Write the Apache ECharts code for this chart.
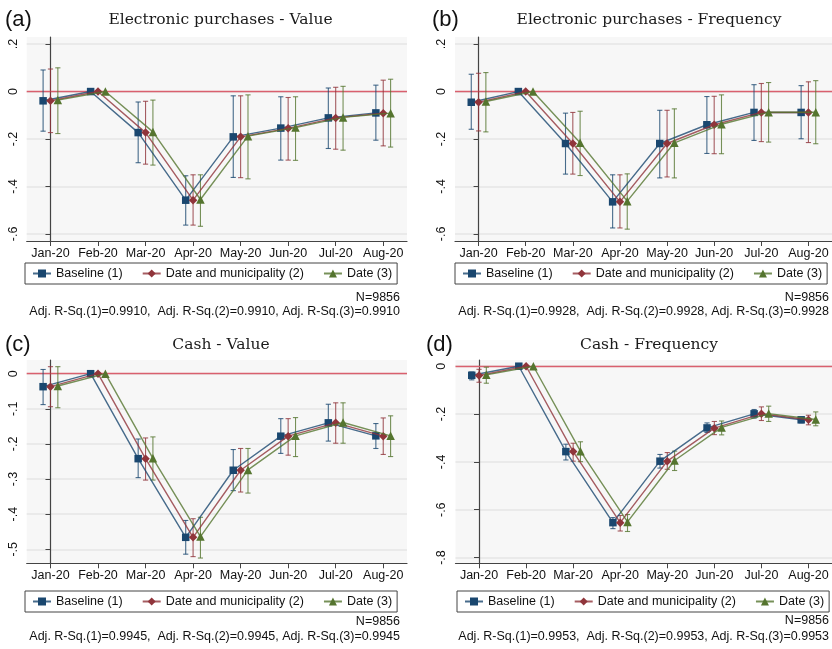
<!DOCTYPE html>
<html>
<head>
<meta charset="utf-8">
<script src="https://cdn.jsdelivr.net/npm/echarts@6/dist/echarts.min.js"></script>
<style>
  html, body { margin: 0; padding: 0; background: #fff; }
  #chart { width: 832px; height: 649px; }
</style>
</head>
<body>
<div id="chart"></div>
<script>
const months = ['Jan-20', 'Feb-20', 'Mar-20', 'Apr-20', 'May-20', 'Jun-20', 'Jul-20', 'Aug-20'];
const seriesNames = ['Baseline (1)', 'Date and municipality (2)', 'Date (3)'];
const colors = ['#1a476f', '#90353b', '#55752f'];
const symbols = ['rect', 'diamond', 'triangle'];
const symbolSizes = [7.5, 8.5, 8.5];
const dodge = [-0.155, 0, 0.155];

// (a) Electronic purchases - Value
const aBase   = [-0.039, 0, -0.173, -0.458, -0.191, -0.154, -0.111, -0.090];
const aBaseHi = [0.091, null, -0.044, -0.355, -0.018, -0.022, 0.015, 0.027];
const aBaseLo = [-0.167, null, -0.300, -0.563, -0.362, -0.289, -0.240, -0.205];
const aMun    = [-0.039, 0, -0.173, -0.458, -0.191, -0.155, -0.111, -0.091];
const aMunHi  = [0.095, null, -0.041, -0.351, -0.018, -0.025, 0.018, 0.048];
const aMunLo  = [-0.173, null, -0.306, -0.563, -0.363, -0.289, -0.243, -0.229];
const aDate   = [-0.036, 0, -0.170, -0.455, -0.188, -0.152, -0.109, -0.091];
const aDateHi = [0.100, null, -0.036, -0.351, -0.014, -0.022, 0.022, 0.052];
const aDateLo = [-0.177, null, -0.310, -0.568, -0.368, -0.290, -0.247, -0.234];

// (b) Electronic purchases - Frequency
const bBase   = [-0.045, 0, -0.219, -0.465, -0.219, -0.140, -0.088, -0.088];
const bBaseHi = [0.073, null, -0.091, -0.351, -0.079, -0.021, 0.029, 0.025];
const bBaseLo = [-0.159, null, -0.348, -0.575, -0.364, -0.261, -0.206, -0.199];
const bMun    = [-0.045, 0, -0.219, -0.465, -0.219, -0.140, -0.088, -0.088];
const bMunHi  = [0.077, null, -0.088, -0.351, -0.079, -0.020, 0.034, 0.041];
const bMunLo  = [-0.166, null, -0.348, -0.575, -0.360, -0.262, -0.211, -0.215];
const bDate   = [-0.042, 0, -0.216, -0.462, -0.216, -0.138, -0.087, -0.087];
const bDateHi = [0.080, null, -0.083, -0.347, -0.073, -0.014, 0.038, 0.046];
const bDateLo = [-0.170, null, -0.354, -0.580, -0.364, -0.262, -0.213, -0.220];

// (c) Cash - Value
const cBase   = [-0.037, 0, -0.242, -0.466, -0.275, -0.178, -0.140, -0.177];
const cBaseHi = [0.012, null, -0.186, -0.418, -0.216, -0.128, -0.087, -0.142];
const cBaseLo = [-0.088, null, -0.296, -0.514, -0.333, -0.227, -0.192, -0.213];
const cMun    = [-0.037, 0, -0.242, -0.466, -0.275, -0.178, -0.140, -0.178];
const cMunHi  = [0.020, null, -0.183, -0.413, -0.213, -0.128, -0.083, -0.126];
const cMunLo  = [-0.094, null, -0.303, -0.521, -0.337, -0.232, -0.198, -0.230];
const cDate   = [-0.035, 0, -0.241, -0.464, -0.274, -0.177, -0.139, -0.177];
const cDateHi = [0.020, null, -0.180, -0.409, -0.213, -0.125, -0.083, -0.120];
const cDateLo = [-0.097, null, -0.303, -0.525, -0.340, -0.236, -0.198, -0.236];

// (d) Cash - Frequency
const dBase   = [-0.038, 0, -0.357, -0.654, -0.397, -0.258, -0.199, -0.224];
const dBaseHi = [-0.024, null, -0.326, -0.633, -0.369, -0.237, -0.181, -0.215];
const dBaseLo = [-0.057, null, -0.392, -0.679, -0.426, -0.277, -0.217, -0.237];
const dMun    = [-0.039, 0, -0.357, -0.654, -0.397, -0.259, -0.199, -0.224];
const dMunHi  = [-0.013, null, -0.322, -0.624, -0.361, -0.231, -0.170, -0.205];
const dMunLo  = [-0.067, null, -0.397, -0.689, -0.431, -0.286, -0.227, -0.245];
const dDate   = [-0.036, 0, -0.355, -0.651, -0.394, -0.256, -0.198, -0.223];
const dDateHi = [-0.004, null, -0.316, -0.620, -0.355, -0.229, -0.167, -0.191];
const dDateLo = [-0.071, null, -0.399, -0.691, -0.436, -0.287, -0.231, -0.249];

const elecTicks = [-0.6, -0.4, -0.2, 0, 0.2];
const cashValTicks = [-0.5, -0.4, -0.3, -0.2, -0.1, 0];
const cashFreqTicks = [-0.8, -0.6, -0.4, -0.2, 0];

const panelTitles = ['Electronic purchases - Value', 'Electronic purchases - Frequency', 'Cash - Value', 'Cash - Frequency'];
const panelTags = ['(a)', '(b)', '(c)', '(d)'];
const obsN = 'N=9856';
const adjR2 = ['0.9910', '0.9928', '0.9945', '0.9953'];

const panels = [
  { est: [aBase, aMun, aDate], hi: [aBaseHi, aMunHi, aDateHi], lo: [aBaseLo, aMunLo, aDateLo],
    ticks: elecTicks, yMin: -0.63, yMax: 0.23,
    grid: { left: 26.7, top: 37, width: 380.3, height: 204 },
    titleX: 220.5, titleY: 20, tagX: 5, legend: { left: 25, top: 263 }, noteRight: 400, nY: 298, rY: 312 },
  { est: [bBase, bMun, bDate], hi: [bBaseHi, bMunHi, bDateHi], lo: [bBaseLo, bMunLo, bDateLo],
    ticks: elecTicks, yMin: -0.63, yMax: 0.23,
    grid: { left: 455, top: 37, width: 380.6, height: 204 },
    titleX: 649, titleY: 20, tagX: 432, legend: { left: 455, top: 263 }, noteRight: 829, nY: 298, rY: 312 },
  { est: [cBase, cMun, cDate], hi: [cBaseHi, cMunHi, cDateHi], lo: [cBaseLo, cMunLo, cDateLo],
    ticks: cashValTicks, yMin: -0.54, yMax: 0.039,
    grid: { left: 26.7, top: 360, width: 380.3, height: 203.3 },
    titleX: 221, titleY: 345, tagX: 5, legend: { left: 25, top: 591 }, noteRight: 400, nY: 622, rY: 637 },
  { est: [dBase, dMun, dDate], hi: [dBaseHi, dMunHi, dDateHi], lo: [dBaseLo, dMunLo, dDateLo],
    ticks: cashFreqTicks, yMin: -0.824, yMax: 0.026,
    grid: { left: 455.5, top: 360, width: 380.6, height: 203.3 },
    titleX: 649, titleY: 345, tagX: 426, legend: { left: 457, top: 591 }, noteRight: 829, nY: 621, rY: 637 }
];

const sans = '"Liberation Sans", Arial, sans-serif';
const serif = '"DejaVu Serif", serif';
const axisColor = '#444';

function stataNum(v) {
  if (Math.abs(v) < 1e-9) return '0';
  return (v < 0 ? '-' : '') + Math.abs(v).toFixed(1).replace(/^0/, '');
}

function errorBarRenderer(color) {
  return function (params, api) {
    const x = api.value(0);
    const top = api.coord([x, api.value(2)]);
    const bot = api.coord([x, api.value(1)]);
    const w = 2.6;
    const style = { stroke: color, lineWidth: 1.1, opacity: 0.8 };
    return {
      type: 'group',
      children: [
        { type: 'line', shape: { x1: top[0], y1: top[1], x2: bot[0], y2: bot[1] }, style },
        { type: 'line', shape: { x1: top[0] - w, y1: top[1], x2: top[0] + w, y2: top[1] }, style },
        { type: 'line', shape: { x1: bot[0] - w, y1: bot[1], x2: bot[0] + w, y2: bot[1] }, style }
      ]
    };
  };
}

const grids = [], xAxes = [], yAxes = [], series = [], legends = [], texts = [];

panels.forEach((p, k) => {
  grids.push(Object.assign({
    show: true, backgroundColor: '#f7f7f7', borderWidth: 0
  }, p.grid));

  xAxes.push({
    type: 'value', gridIndex: k, min: -0.5, max: 7.5,
    axisLine: { show: true, onZero: false, lineStyle: { color: axisColor, width: 1.2 } },
    axisTick: { show: true, length: 5, customValues: months.map((m, i) => i), lineStyle: { color: axisColor } },
    axisLabel: { customValues: months.map((m, i) => i), formatter: v => months[Math.round(v)],
      color: '#111', fontFamily: sans, fontSize: 12.5, margin: 6 },
    splitLine: { show: false }
  });

  yAxes.push({
    type: 'value', gridIndex: k, min: p.yMin, max: p.yMax,
    axisLine: { show: true, lineStyle: { color: axisColor, width: 1.2 } },
    axisTick: { show: true, length: 5, customValues: p.ticks, lineStyle: { color: axisColor } },
    axisLabel: { customValues: p.ticks, formatter: stataNum, rotate: 90,
      color: '#111', fontFamily: sans, fontSize: 12.5, margin: 7 },
    splitLine: { show: true, lineStyle: { color: '#e6e6e6', width: 1.5 } }
  });

  for (let s = 0; s < 3; s++) {
    const pts = p.est[s].map((v, i) => [i + dodge[s], v]);
    const bars = [];
    p.est[s].forEach((v, i) => {
      if (p.lo[s][i] !== null) bars.push([i + dodge[s], p.lo[s][i], p.hi[s][i]]);
    });
    series.push({
      type: 'custom', name: 'ci' + k + s, xAxisIndex: k, yAxisIndex: k,
      renderItem: errorBarRenderer(colors[s]), data: bars, z: 3, silent: true
    });
    const line = {
      type: 'line', name: seriesNames[s], xAxisIndex: k, yAxisIndex: k, data: pts,
      symbol: symbols[s], symbolSize: symbolSizes[s], showSymbol: true,
      itemStyle: { color: colors[s] },
      lineStyle: { color: colors[s], width: 1.4, opacity: 0.8 },
      z: 4 + s, animation: false
    };
    if (s === 0) {
      line.markLine = {
        silent: true, symbol: 'none', label: { show: false },
        lineStyle: { color: '#d9606e', width: 1.4, type: 'solid' },
        data: [{ yAxis: 0 }], z: 2
      };
    }
    series.push(line);
  }

  legends.push({
    data: seriesNames, left: p.legend.left, top: p.legend.top, width: 380,
    orient: 'horizontal', itemWidth: 18, itemHeight: 10, itemGap: 19,
    padding: [4, 5, 4, 7], borderColor: '#444', borderWidth: 1, backgroundColor: '#fff',
    textStyle: { fontFamily: sans, fontSize: 12.5, color: '#111' },
    selectedMode: false
  });

  texts.push(
    { type: 'text', x: p.tagX, y: p.titleY, style: { text: panelTags[k], font: '22px ' + sans, fill: '#111', textVerticalAlign: 'middle' } },
    { type: 'text', x: p.titleX, y: p.titleY, style: { text: panelTitles[k], font: '15.5px ' + serif, fill: '#1a1a1a', textAlign: 'center', textVerticalAlign: 'middle' } },
    { type: 'text', x: p.noteRight, y: p.nY, style: { text: obsN, font: '12.5px ' + sans, fill: '#111', textAlign: 'right', textVerticalAlign: 'middle' } },
    { type: 'text', x: p.noteRight, y: p.rY, style: { text: 'Adj. R-Sq.(1)=' + adjR2[k] + ',  Adj. R-Sq.(2)=' + adjR2[k] + ', Adj. R-Sq.(3)=' + adjR2[k],
      font: '12.5px ' + sans, fill: '#111', textAlign: 'right', textVerticalAlign: 'middle' } }
  );
});

const chart = echarts.init(document.getElementById('chart'), null, { renderer: 'canvas' });
chart.setOption({
  animation: false,
  backgroundColor: '#fff',
  grid: grids,
  xAxis: xAxes,
  yAxis: yAxes,
  legend: legends,
  series: series,
  graphic: texts
});
</script>
</body>
</html>
